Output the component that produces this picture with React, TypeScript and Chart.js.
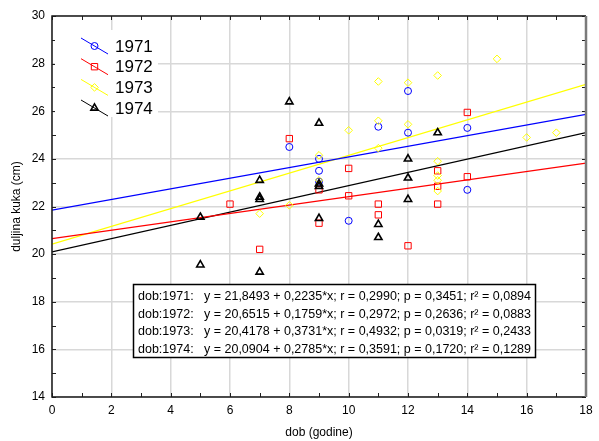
import React, { useEffect, useRef } from 'react';
import { Chart, registerables } from 'chart.js';

Chart.register(...registerables);

// ---- data ----
const years = ['1971', '1972', '1973', '1974'];
const seriesColors = ['#0000ff', '#ff0000', '#ffff00', '#000000'];

const x1971 = [8, 9, 9, 9, 10, 11, 12, 12, 14, 14];
const y1971 = [24.5, 24.0, 23.5, 23.05, 21.4, 25.35, 26.85, 25.1, 25.3, 22.7];

const x1972 = [6, 7, 8, 9, 9, 10, 10, 11, 11, 12, 13, 13, 13, 14, 14];
const y1972 = [22.1, 20.2, 24.85, 22.7, 21.3, 23.6, 22.45, 22.1, 21.65, 20.35, 23.5, 22.85, 22.1, 25.95, 23.25];

const x1973 = [7, 8, 9, 9, 10, 11, 11, 11, 12, 12, 13, 13, 13, 13, 13, 15, 16, 17];
const y1973 = [21.7, 22.05, 24.15, 23.1, 25.2, 27.25, 25.6, 24.45, 27.2, 25.45, 27.5, 23.9, 23.3, 23.1, 22.65, 28.2, 24.9, 25.1];

const x1974 = [5, 5, 7, 7, 7, 7, 8, 9, 9, 9, 9, 11, 11, 12, 12, 12, 13];
const y1974 = [21.55, 19.55, 23.1, 22.4, 22.3, 19.25, 26.4, 25.5, 22.95, 22.85, 21.5, 21.25, 20.7, 24.0, 23.2, 22.3, 25.1];

const intercepts = [21.8493, 20.6515, 20.4178, 20.0904];
const slopes = [0.2235, 0.1759, 0.3731, 0.2785];
const rValues = ['0,2990', '0,2972', '0,4932', '0,3591'];
const pValues = ['0,3451', '0,2636', '0,0319', '0,1720'];
const r2Values = ['0,0894', '0,0883', '0,2433', '0,1289'];

const xMin = 0;
const xMax = 18;
const yMin = 14;
const yMax = 30;
const xTitle = 'dob (godine)';
const yTitle = 'duljina kuka (cm)';

const xs = [x1971, x1972, x1973, x1974];
const ys = [y1971, y1972, y1973, y1974];
const pointStyles = ['circle', 'rect', 'rectRot', 'triangle'];
const pointRadii = [3.5, 4.5, 3.8, 4.2];
const pointWidths = [1, 1, 1, 1.6];

const FONT = '"Liberation Sans", Arial, sans-serif';

function fmt(v: number) {
  return v.toFixed(4).replace('.', ',');
}

function drawMarker(ctx: CanvasRenderingContext2D, style: string, x: number, y: number, r: number) {
  ctx.beginPath();
  if (style === 'circle') {
    ctx.arc(x, y, r, 0, Math.PI * 2);
  } else if (style === 'rect') {
    const s = r * Math.SQRT1_2;
    ctx.rect(x - s, y - s, 2 * s, 2 * s);
  } else if (style === 'rectRot') {
    ctx.moveTo(x, y - r);
    ctx.lineTo(x + r, y);
    ctx.lineTo(x, y + r);
    ctx.lineTo(x - r, y);
    ctx.closePath();
  } else {
    ctx.moveTo(x, y - r);
    ctx.lineTo(x + r * 0.866, y + r * 0.5);
    ctx.lineTo(x - r * 0.866, y + r * 0.5);
    ctx.closePath();
  }
  ctx.stroke();
}

const framePlugin = {
  id: 'frameTicks',
  afterDatasetsDraw(chart: any) {
    const { ctx, chartArea } = chart;
    const { left, right, top, bottom } = chartArea;
    const xs_ = chart.scales.x;
    const ys_ = chart.scales.y;
    ctx.save();
    ctx.strokeStyle = '#202020';
    ctx.lineWidth = 1;
    for (let v = xMin; v <= xMax; v++) {
      const px = Math.round(xs_.getPixelForValue(v)) + 0.5;
      const len = 4;
      ctx.beginPath();
      ctx.moveTo(px, bottom);
      ctx.lineTo(px, bottom - len);
      ctx.moveTo(px, top);
      ctx.lineTo(px, top + len);
      ctx.stroke();
    }
    for (let v = yMin; v <= yMax; v++) {
      const py = Math.round(ys_.getPixelForValue(v)) + 0.5;
      const len = 4;
      ctx.beginPath();
      ctx.moveTo(left, py);
      ctx.lineTo(left + len, py);
      ctx.moveTo(right, py);
      ctx.lineTo(right - len, py);
      ctx.stroke();
    }
    ctx.strokeStyle = '#1a1a1a';
    ctx.lineWidth = 1.5;
    ctx.beginPath();
    ctx.moveTo(right, top);
    ctx.lineTo(left, top);
    ctx.lineTo(left, bottom);
    ctx.lineTo(right, bottom);
    ctx.stroke();
    ctx.strokeStyle = '#7a7a7a';
    ctx.lineWidth = 2.5;
    ctx.beginPath();
    ctx.moveTo(right, top);
    ctx.lineTo(right, bottom);
    ctx.stroke();
    ctx.restore();
  },
  afterDraw(chart: any) {
    const { ctx } = chart;
    ctx.save();
    // legend
    ctx.fillStyle = '#ffffff';
    ctx.fillRect(55, 30, 103, 87);
    const rowY = [46, 66.7, 87.4, 108];
    for (let i = 0; i < 4; i++) {
      const cy = rowY[i];
      ctx.strokeStyle = seriesColors[i];
      ctx.lineWidth = 1;
      ctx.beginPath();
      ctx.moveTo(81, cy - 8);
      ctx.lineTo(108, cy + 8);
      ctx.stroke();
      ctx.lineWidth = pointWidths[i];
      drawMarker(ctx, pointStyles[i], 94.5, cy, pointRadii[i]);
      ctx.fillStyle = '#000';
      ctx.font = `17px ${FONT}`;
      ctx.textAlign = 'left';
      ctx.textBaseline = 'middle';
      ctx.fillText(years[i], 115, cy + 1);
    }
    // stats box
    const bx = 133.5, by = 284.5, bw = 402, bh = 73;
    ctx.fillStyle = '#ffffff';
    ctx.fillRect(bx, by, bw, bh);
    ctx.strokeStyle = '#000';
    ctx.lineWidth = 1.5;
    ctx.strokeRect(bx, by, bw, bh);
    ctx.fillStyle = '#000';
    ctx.font = `12.5px ${FONT}`;
    ctx.textBaseline = 'middle';
    const lineY = [297, 314.5, 332, 349.5];
    const eqs = years.map((_, i) =>
      `y = ${fmt(intercepts[i])} + ${fmt(slopes[i])}*x; r = ${rValues[i]}; p = ${pValues[i]}; r² = ${r2Values[i]}`
    );
    const eqX = Math.round(531 - ctx.measureText(eqs[0]).width);
    for (let i = 0; i < 4; i++) {
      ctx.fillText(`dob:${years[i]}:`, 138, lineY[i]);
      ctx.fillText(eqs[i], eqX, lineY[i]);
    }
    ctx.restore();
  },
};

export default function App() {
  const canvasRef = useRef<HTMLCanvasElement | null>(null);

  useEffect(() => {
    const canvas = canvasRef.current;
    if (!canvas) return;

    const datasets: any[] = [];
    for (let i = 0; i < 4; i++) {
      datasets.push({
        type: 'scatter',
        label: years[i],
        data: xs[i].map((x, k) => ({ x, y: ys[i][k] })),
        pointStyle: pointStyles[i],
        pointRadius: pointRadii[i],
        pointBorderWidth: pointWidths[i],
        borderColor: seriesColors[i],
        backgroundColor: 'rgba(0,0,0,0)',
        showLine: false,
        order: 4 - i,
      });
    }
    for (let i = 0; i < 4; i++) {
      datasets.push({
        type: 'line',
        label: 'fit ' + years[i],
        data: [
          { x: xMin, y: intercepts[i] + slopes[i] * xMin },
          { x: xMax, y: intercepts[i] + slopes[i] * xMax },
        ],
        borderColor: seriesColors[i],
        borderWidth: 1.2,
        pointRadius: 0,
        fill: false,
        order: 10 + i,
      });
    }

    const chart = new Chart(canvas, {
      type: 'scatter',
      data: { datasets },
      options: {
        responsive: false,
        animation: false,
        devicePixelRatio: 1,
        layout: { padding: { top: 16, right: 13, left: 0, bottom: 0 } },
        plugins: { legend: { display: false }, tooltip: { enabled: false } },
        scales: {
          x: {
            type: 'linear',
            min: xMin,
            max: xMax,
            afterFit: (s: any) => { s.height = 44; },
            ticks: {
              stepSize: 1,
              autoSkip: false,
              maxRotation: 0,
              padding: 6,
              color: '#000',
              font: { family: FONT, size: 12 },
              callback: (v: any) => (Number(v) % 2 === 0 ? String(v) : ''),
            },
            grid: {
              drawTicks: false,
              lineWidth: 1.5,
              color: (c: any) => (c.tick && c.tick.value % 2 === 0 ? '#d8d8d8' : 'rgba(0,0,0,0)'),
            },
            border: { display: false },
            title: { display: true, text: xTitle, color: '#000', font: { family: FONT, size: 12 }, padding: { top: 0, bottom: 1 } },
          },
          y: {
            type: 'linear',
            min: yMin,
            max: yMax,
            afterFit: (s: any) => { s.width = 52; },
            ticks: {
              stepSize: 1,
              autoSkip: false,
              padding: 7,
              color: '#000',
              font: { family: FONT, size: 12 },
              callback: (v: any) => (Number(v) % 2 === 0 ? String(v) : ''),
            },
            grid: {
              drawTicks: false,
              lineWidth: 1.5,
              color: (c: any) => (c.tick && c.tick.value % 2 === 0 ? '#d8d8d8' : 'rgba(0,0,0,0)'),
            },
            border: { display: false },
            title: { display: true, text: yTitle, color: '#000', font: { family: FONT, size: 12 }, padding: { top: 9, bottom: 0 } },
          },
        },
      },
      plugins: [framePlugin],
    } as any);

    return () => chart.destroy();
  }, []);

  return (
    <div style={{ position: 'fixed', left: 0, top: 0, width: 599, height: 441, background: '#fff' }}>
      <canvas ref={canvasRef} width={599} height={441} style={{ display: 'block' }} />
    </div>
  );
}
